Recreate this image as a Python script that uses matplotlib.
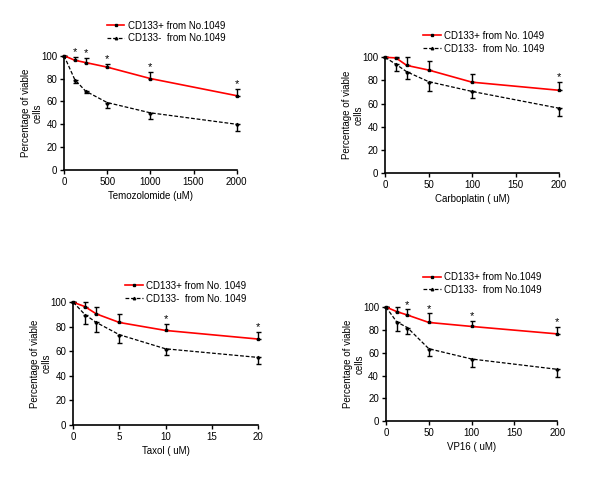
import matplotlib
matplotlib.use("Agg")
import matplotlib.pyplot as plt
from matplotlib.lines import Line2D

plt.rcParams["font.family"] = ["Liberation Sans", "DejaVu Sans"]
plt.rcParams["font.size"] = 7

# ---- data ----
tmz_x = [0, 125, 250, 500, 1000, 2000]
tmz_pos = [100, 96, 94, 90, 80, 65]
tmz_pos_err = [0, 3, 4, 3, 6, 6]
tmz_neg = [100, 79, 69, 59, 50, 40]
tmz_neg_err = [0, 3, 2, 5, 5, 6]
tmz_star = [1, 2, 3, 4, 5]

carb_x = [0, 12.5, 25, 50, 100, 200]
carb_pos = [100, 99.5, 93, 89, 78.5, 71.5]
carb_pos_err = [0, 1, 7, 8, 7, 7]
carb_neg = [100, 94, 87.5, 79, 70.5, 56]
carb_neg_err = [0, 6, 6.5, 8, 6, 7]
carb_star = [5]

tax_x = [0, 1.25, 2.5, 5, 10, 20]
tax_pos = [100, 96.5, 90.5, 83.5, 77, 70]
tax_pos_err = [0, 3.5, 6, 7, 5, 5.5]
tax_neg = [100, 90, 83.5, 73.5, 62, 55]
tax_neg_err = [0, 8, 8, 7, 5, 5.5]
tax_star = [4, 5]

vp_x = [0, 12.5, 25, 50, 100, 200]
vp_pos = [100, 96, 93, 86.5, 83, 76.5]
vp_pos_err = [0, 4, 5, 8, 5, 6]
vp_neg = [100, 87, 82, 63.5, 54.5, 45.5]
vp_neg_err = [0, 8, 6, 6.5, 7, 7]
vp_star = [2, 3, 4, 5]

panels = [
    # x, pos, pos_err, neg, neg_err, stars, xlabel, xticks, labels, axes rect, legend anchor
    (tmz_x, tmz_pos, tmz_pos_err, tmz_neg, tmz_neg_err, tmz_star,
     "Temozolomide (uM)", [0, 500, 1000, 1500, 2000],
     ["CD133+ from No.1049", "CD133-  from No.1049"],
     [0.1067, 0.6444, 0.2878, 0.2391], (0.178, 0.957)),
    (carb_x, carb_pos, carb_pos_err, carb_neg, carb_neg_err, carb_star,
     "Carboplatin ( uM)", [0, 50, 100, 150, 200],
     ["CD133+ from No. 1049", "CD133-  from No. 1049"],
     [0.6417, 0.6381, 0.2900, 0.2420], (0.705, 0.936)),
    (tax_x, tax_pos, tax_pos_err, tax_neg, tax_neg_err, tax_star,
     "Taxol ( uM)", [0, 5, 10, 15, 20],
     ["CD133+ from No. 1049", "CD133-  from No. 1049"],
     [0.1222, 0.1115, 0.3073, 0.2561], (0.209, 0.413)),
    (vp_x, vp_pos, vp_pos_err, vp_neg, vp_neg_err, vp_star,
     "VP16 ( uM)", [0, 50, 100, 150, 200],
     ["CD133+ from No.1049", "CD133-  from No.1049"],
     [0.6433, 0.1186, 0.2855, 0.2391], (0.705, 0.431)),
]

red_style = dict(color="#ff0000", lw=1.2, marker="s", ms=2,
                 mfc="black", mec="black")
black_style = dict(color="black", lw=0.9, ls=(0, (3, 1.5)), marker="^",
                   ms=1.8, mfc="black", mec="black")
err_style = dict(ecolor="black", elinewidth=1, capsize=1.8, capthick=1,
                 clip_on=False, zorder=3)

fig = plt.figure(figsize=(6, 4.78), dpi=100)

for (x, pos, pos_err, neg, neg_err, stars, xlabel, xticks, labels,
     rect, leg_xy) in panels:
    ax = fig.add_axes(rect)
    zeros = [0] * len(x)
    ax.errorbar(x, pos, yerr=[zeros, pos_err], **red_style, **err_style)
    ax.errorbar(x, neg, yerr=[neg_err, zeros], **black_style, **err_style)
    for i in stars:
        ax.text(x[i], pos[i] + pos_err[i] + 4, "*", ha="center", va="center",
                fontsize=8)

    ax.set_xlim(0, x[-1])
    ax.set_ylim(0, 100)
    ax.set_xticks(xticks)
    ax.set_yticks([0, 20, 40, 60, 80, 100])
    ax.set_xlabel(xlabel, labelpad=3)
    ax.set_ylabel("Percentage of viable\ncells", labelpad=-1)
    for s in ("top", "right"):
        ax.spines[s].set_visible(False)
    for s in ("left", "bottom"):
        ax.spines[s].set_linewidth(1.2)
    ax.tick_params(direction="out", length=3, width=1, pad=2)

    handles = [Line2D([], [], **red_style), Line2D([], [], **black_style)]
    ax.legend(handles, labels, loc="upper left", bbox_to_anchor=leg_xy,
              bbox_transform=fig.transFigure, frameon=False, borderpad=0,
              borderaxespad=0, handlelength=1.8, handletextpad=0.35,
              labelspacing=0.3, fontsize=7)

fig.savefig("out.png", dpi=100)
